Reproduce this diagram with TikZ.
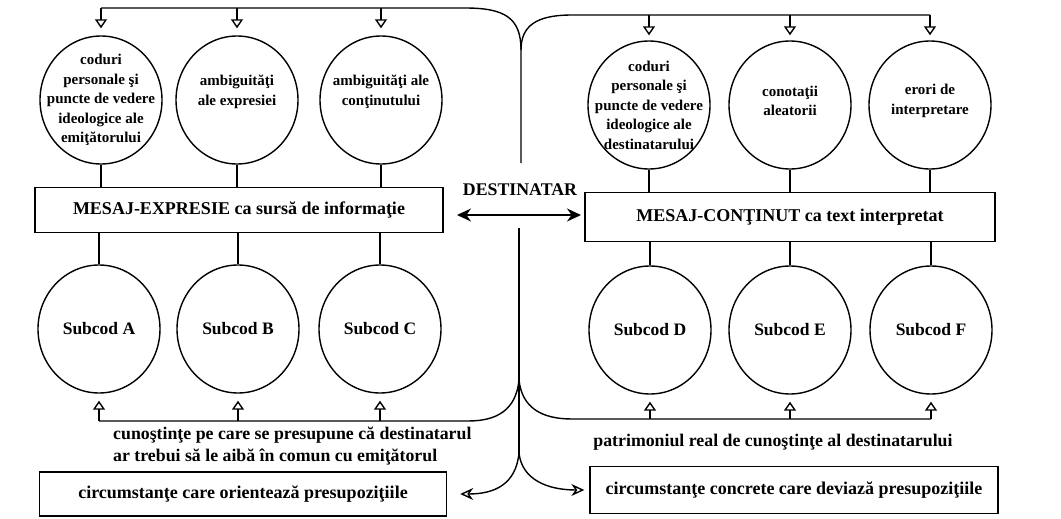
\documentclass[tikz,border=0pt]{standalone}
\usepackage{fontspec}
\setmainfont{Liberation Serif}
\usetikzlibrary{arrows.meta,shapes.geometric}
\tikzset{
  ln/.style={line width=1.4pt},
  bubble/.style={draw,ellipse,ln,minimum width=122pt,minimum height=128pt,inner sep=0pt},
  btext/.style={align=center,font=\bfseries\fontsize{15}{19.5}\selectfont},
  stext/.style={font=\bfseries\fontsize{17.5}{20}\selectfont},
  mbox/.style={draw,ln,minimum width=408pt,minimum height=45pt,inner sep=0pt,font=\bfseries\fontsize{18}{21}\selectfont},
  lbl/.style={font=\bfseries\fontsize{17.8}{22}\selectfont,inner sep=0pt},
  tip/.style={ln,-{Triangle[open,length=9pt,width=12pt,line width=1.4pt]}},
  btip/.style={ln,-{Stealth[open,length=13pt,width=12pt,line width=1.4pt]}},
  dbl/.style={ln,{Stealth[length=14pt,width=13pt]}-{Stealth[length=14pt,width=13pt]}}
}
\begin{document}
\begin{tikzpicture}[x=1pt,y=-1pt]
        \useasboundingbox (0,0) rectangle (1061,519);
        % circles above the messages
        \node[bubble] (P1) at (101,100) {};
        \node[bubble] (P2) at (237,100) {};
        \node[bubble] (P3) at (381,100) {};
        \node[bubble] (Q1) at (649,105) {};
        \node[bubble] (Q2) at (790,105) {};
        \node[bubble] (Q3) at (930,105) {};
        \node[btext] (P1t) at (P1) {coduri\\personale şi\\puncte de vedere\\ideologice ale\\emiţătorului};
        \node[btext] (P2t) at ([yshift=8pt]P2) {ambiguităţi\\ale expresiei};
        \node[btext] (P3t) at ([yshift=8pt]P3) {ambiguităţi ale\\conţinutului};
        \node[btext] (Q1t) at (Q1) {coduri\\personale şi\\puncte de vedere\\ideologice ale\\destinatarului};
        \node[btext] (Q2t) at ([yshift=4pt]Q2) {conotaţii\\aleatorii};
        \node[btext] (Q3t) at ([yshift=4pt]Q3) {erori de\\interpretare};

        % subcodes
        \node[bubble] (A) at (99,329) {};
        \node[bubble] (B) at (238,329) {};
        \node[bubble] (C) at (380,329) {};
        \node[bubble] (D) at (650,330) {};
        \node[bubble] (E) at (790,330) {};
        \node[bubble] (F) at (931,330) {};
        \node[stext] (At) at (A) {Subcod A};
        \node[stext] (Bt) at (B) {Subcod B};
        \node[stext] (Ct) at (C) {Subcod C};
        \node[stext] (Dt) at (D) {Subcod D};
        \node[stext] (Et) at (E) {Subcod E};
        \node[stext] (Ft) at (F) {Subcod F};

        \coordinate (Mc) at (239,210);
        \coordinate (Nc) at (790,217);

        % circles to messages
        \foreach \n in {P1,P2,P3,A,B,C} \draw[ln] (\n) -- (\n |- Mc);
        \foreach \n in {Q1,Q2,Q3,D,E,F} \draw[ln] (\n) -- (\n |- Nc);

        % messages
        \node[mbox,fill=white] (M) at (Mc) {MESAJ-EXPRESIE ca sursă de informaţie};
        \node[mbox,fill=white,minimum width=410pt,minimum height=49pt] (N) at (Nc) {MESAJ-CONŢINUT ca text interpretat};

        % circumstances
        \node[mbox,minimum width=407pt,minimum height=44pt] (K) at (243,494) {circumstanţe care orientează presupoziţiile};
        \node[mbox,minimum height=47pt] (L) at (794,490) {circumstanţe concrete care deviază presupoziţiile};

        \node[lbl,align=left,anchor=west] (G) at (113,446) {cunoştinţe pe care se presupune că destinatarul\\ar trebui să le aibă în comun cu emiţătorul};
        \node[lbl] (H) at (773,442) {patrimoniul real de cunoştinţe al destinatarului};
        \node[lbl] (X) at (520,190) {DESTINATAR};

        \coordinate (T)  at (521,50);
        \coordinate (U)  at (521,163);
        \coordinate (V)  at (519,228);
        \coordinate (W)  at (519,380);
        \coordinate (Z)  at (519,453);
        \coordinate (TL) at (101,8);
        \coordinate (TR) at (930,15);
        \coordinate (BL) at (99,421);
        \coordinate (BR) at (931,419);
        \coordinate (DL) at (457,215);
        \coordinate (DR) at (581,215);

        % trunk and branches
        \draw[ln] (U) -- (T) .. controls (521,18) and (505,8) .. (465,8) -- (TL);
        \draw[ln] (T) .. controls (521,26) and (536,15) .. (572,15) -- (TR);
        \draw[ln] (V) -- (W) -- (Z);
        \draw[ln] (W) .. controls (516,410) and (497,421) .. (468,421) -- (BL);
        \draw[ln] (W) .. controls (522,408) and (542,419) .. (572,419) -- (BR);
        \draw[btip] (Z) .. controls (516,484) and (495,494) .. ([xshift=13pt]K.east);
        \draw[btip] (Z) .. controls (522,480) and (548,490) .. ([xshift=-5pt]L.west);
        \draw[dbl] (DL) -- (DR);

        \foreach \n in {P1,P2,P3} \draw[tip] (\n |- TL) -- ([yshift=7pt]\n.north);
        \foreach \n in {Q1,Q2,Q3} \draw[tip] (\n |- TR) -- ([yshift=5pt]\n.north);
        \foreach \n in {A,B,C} \draw[tip] (\n |- BL) -- ([yshift=-7pt]\n.south);
        \foreach \n in {D,E,F} \draw[tip] (\n |- BR) -- ([yshift=-7pt]\n.south);
\end{tikzpicture}
\end{document}
